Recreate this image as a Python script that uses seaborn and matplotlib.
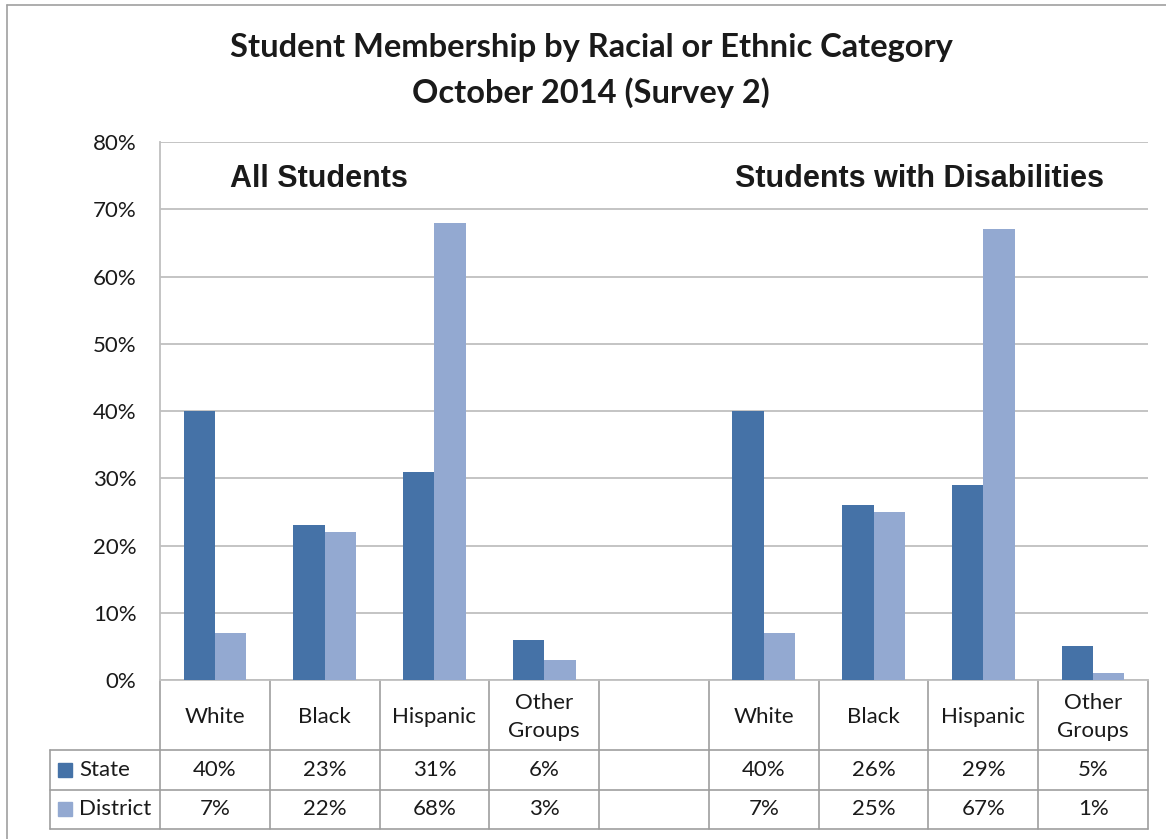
import numpy as np
import pandas as pd
import matplotlib
matplotlib.use("Agg")
import matplotlib.pyplot as plt
import seaborn as sns
from matplotlib.lines import Line2D
from matplotlib.patches import Rectangle

# ---------------- data ----------------
title_lines = ["Student Membership by Racial or Ethnic Category", "October 2014 (Survey 2)"]
groups = ["All Students", "Students with Disabilities"]
categories = ["White", "Black", "Hispanic", "Other\nGroups"]
series = ["State", "District"]
all_state = [40, 23, 31, 6]
all_district = [7, 22, 68, 3]
swd_state = [40, 26, 29, 5]
swd_district = [7, 25, 67, 1]
ytick_values = [0, 10, 20, 30, 40, 50, 60, 70, 80]

# ---------------- style ----------------
c_state = "#4572A7"
c_district = "#93A9D1"
c_grid = "#BFBFBF"
c_table = "#9E9E9E"
c_text = "#1A1A1A"
fs = 16

sns.set_theme(style="white")
plt.rcParams['font.family'] = ['Lato', 'DejaVu Sans']

W, H = 1166, 839
fig = plt.figure(figsize=(W / 100, H / 100), dpi=100)

def fx(px):
    return px / W

def fy(py):
    return 1 - py / H

L, R, T, B = 160, 1148, 142, 680
ax = fig.add_axes([fx(L), fy(B), (R - L) / W, (B - T) / H])

# build long table; a blank slot separates the two groups
order = []
rows = []
group_values = [(all_state, all_district), (swd_state, swd_district)]
for gi, (g, (st, di)) in enumerate(zip(groups, group_values)):
    for c, s, d in zip(categories, st, di):
        key = f"{g}|{c}"
        order.append(key)
        rows.append(dict(slot=key, series="State", value=s / 100))
        rows.append(dict(slot=key, series="District", value=d / 100))
    if gi == 0:
        order.append("gap")
df = pd.DataFrame(rows)

sns.barplot(data=df, x="slot", y="value", hue="series", order=order,
            hue_order=series, palette=[c_state, c_district], width=0.57,
            saturation=1, errorbar=None, legend=False, ax=ax, zorder=3,
            linewidth=0, edgecolor="none")

ax.set_xlabel("")
ax.set_ylabel("")
ax.set_xticks([])
ax.set_yticks([v / 100 for v in ytick_values])
ax.set_yticklabels([f"{v}%" for v in ytick_values])
ax.tick_params(axis="y", length=0, pad=17, labelsize=fs, labelcolor=c_text)
ax.yaxis.grid(True, color=c_grid, lw=1.3, zorder=0)
ax.set_axisbelow(True)
for side in ["top", "right"]:
    ax.spines[side].set_visible(False)
for side in ["left", "bottom"]:
    ax.spines[side].set_color(c_grid)
    ax.spines[side].set_linewidth(1.3)

# ---------------- data table ----------------
trans = ax.get_xaxis_transform()

def yy(py):
    return (B - py) / (B - T)

row_top, row_mid, row_bot = 750, 790, 829
n = len(order)
for i in range(n + 1):
    ax.add_line(Line2D([i - 0.5, i - 0.5], [yy(B), yy(row_bot)], transform=trans,
                       color=c_table, lw=1.2, clip_on=False))
ax.add_line(Line2D([-1.5, -1.5], [yy(row_top), yy(row_bot)], transform=trans,
                   color=c_table, lw=1.2, clip_on=False))
for py in [row_top, row_mid, row_bot]:
    ax.add_line(Line2D([-1.5, n - 0.5], [yy(py), yy(py)], transform=trans,
                       color=c_table, lw=1.2, clip_on=False))

value_rows = {}
for g, (st, di) in zip(groups, group_values):
    for c, s, d in zip(categories, st, di):
        value_rows[f"{g}|{c}"] = (s, d)

for i, key in enumerate(order):
    if key == "gap":
        continue
    cat = key.split("|", 1)[1]
    ax.text(i, yy(717), cat, transform=trans, ha="center", va="center",
            fontsize=fs, color=c_text, linespacing=1.45, clip_on=False)
    s, d = value_rows[key]
    ax.text(i, yy(770), f"{s}%", transform=trans, ha="center", va="center",
            fontsize=fs, color=c_text, clip_on=False)
    ax.text(i, yy(809), f"{d}%", transform=trans, ha="center", va="center",
            fontsize=fs, color=c_text, clip_on=False)

# legend keys inside the table
for name, col, cy in [(series[0], c_state, 770), (series[1], c_district, 809)]:
    fig.patches.append(Rectangle((fx(58), fy(cy + 7)), 14 / W, 14 / H,
                                 transform=fig.transFigure, color=col))
    fig.text(fx(79), fy(cy), name, ha="left", va="center", fontsize=fs, color=c_text)

ax.set_xlim(-0.5, n - 0.5)
ax.set_ylim(0, 0.8)

# ---------------- titles ----------------
fig.text(fx(591), fy(57), title_lines[0], ha="center", va="baseline",
         fontsize=23.5, fontweight="bold", color=c_text)
fig.text(fx(591), fy(103), title_lines[1], ha="center", va="baseline",
         fontsize=23.5, fontweight="bold", color=c_text)
fig.text(fx(230), fy(187), groups[0], ha="left", va="baseline", fontsize=22,
         fontweight="bold", family="Liberation Sans", color=c_text)
fig.text(fx(735), fy(187), groups[1], ha="left", va="baseline", fontsize=22,
         fontweight="bold", family="Liberation Sans", color=c_text)

# outer chart border (left and top visible)
fig.lines.append(Line2D([fx(7), fx(7)], [fy(5), fy(H)], transform=fig.transFigure,
                        color="#A0A0A0", lw=1.2))
fig.lines.append(Line2D([fx(7), fx(W)], [fy(5), fy(5)], transform=fig.transFigure,
                        color="#A0A0A0", lw=1.2))

fig.savefig("out.png", dpi=100)
